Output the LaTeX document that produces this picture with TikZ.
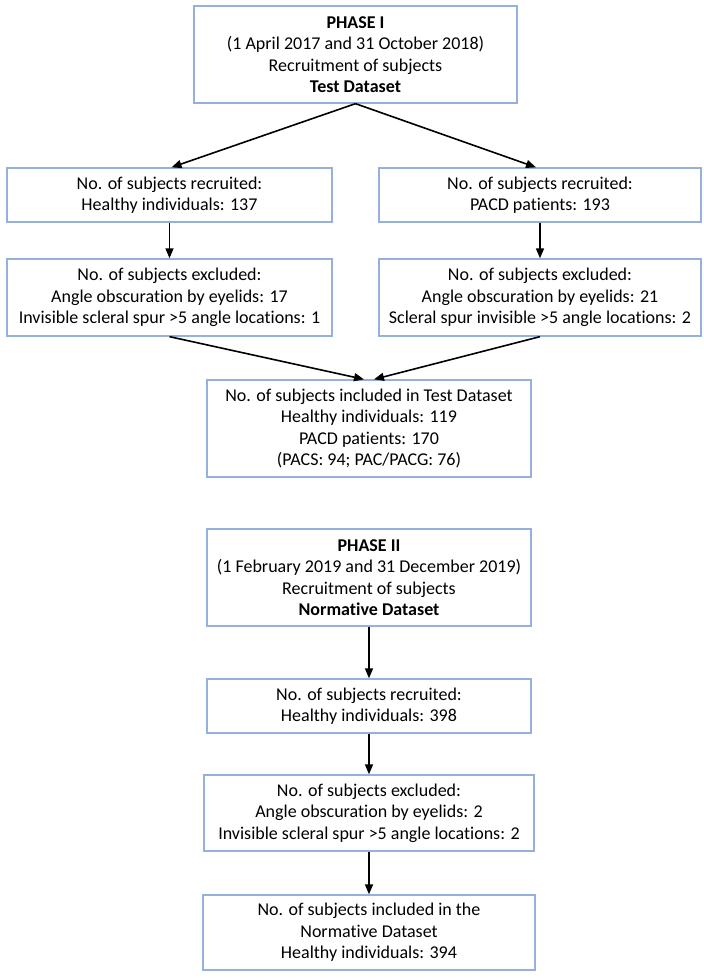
\documentclass[tikz,border=0pt]{standalone}
\usepackage{fontspec}
\setmainfont{Carlito}[Ligatures=NoCommon]
\usetikzlibrary{arrows.meta}
\definecolor{boxline}{RGB}{150,176,222}
\begin{document}
\begin{tikzpicture}[x=1pt,y=-1pt,
  box/.style={draw=boxline,line width=1.3pt,fill=white,inner sep=0pt,align=center,
    font=\fontsize{18}{21.5}\selectfont},
  arr/.style={line width=1.6pt,-{Triangle[length=10pt,width=8pt]}}]
\useasboundingbox[fill=white] (0,0) rectangle (704,978);
% Phase I
\node[box,minimum width=323pt,minimum height=97pt] (b1) at (355.5,54.5)
  {\textbf{PHASE I}\\(1 April 2017 and 31 October 2018)\\Recruitment of subjects\\\textbf{Test Dataset}};
\node[box,minimum width=325pt,minimum height=54pt] (b2) at (169.5,195)
  {No. of subjects recruited:\\Healthy individuals: 137};
\node[box,minimum width=322pt,minimum height=54pt] (b3) at (540,195)
  {No. of subjects recruited:\\PACD patients: 193};
\node[box,minimum width=325pt,minimum height=77pt] (b4) at (169.5,297.5)
  {No. of subjects excluded:\\Angle obscuration by eyelids: 17\\Invisible scleral spur >5 angle locations: 1};
\node[box,minimum width=322pt,minimum height=77pt] (b5) at (540,297.5)
  {No. of subjects excluded:\\Angle obscuration by eyelids: 21\\Scleral spur invisible >5 angle locations: 2};
\node[box,minimum width=324pt,minimum height=97pt] (b6) at (369,428.5)
  {No. of subjects included in Test Dataset\\Healthy individuals: 119\\PACD patients: 170\\(PACS: 94; PAC/PACG: 76)};
% Phase II
\node[box,minimum width=324pt,minimum height=97pt] (b7) at (369,577.5)
  {\textbf{PHASE II}\\(1 February 2019 and 31 December 2019)\\Recruitment of subjects\\\textbf{Normative Dataset}};
\node[box,minimum width=324pt,minimum height=54pt] (b8) at (369,706)
  {No. of subjects recruited:\\Healthy individuals: 398};
\node[box,minimum width=330pt,minimum height=76pt] (b9) at (369,813)
  {No. of subjects excluded:\\Angle obscuration by eyelids: 2\\Invisible scleral spur >5 angle locations: 2};
\node[box,minimum width=332pt,minimum height=75pt] (b10) at (369,932.5)
  {No. of subjects included in the\\Normative Dataset\\Healthy individuals: 394};
% connectors
\draw[arr] (b1.south) -- ([xshift=2pt]b2.north);
\draw[arr] (b1.south) -- ([xshift=-4pt]b3.north);
\draw[arr] (b2.south) -- (b4.north);
\draw[arr] (b3.south) -- (b5.north);
\draw[arr] (b4.south) -- ([xshift=-5pt]b6.north);
\draw[arr] (b5.south) -- ([xshift=5pt]b6.north);
\draw[arr] (b7.south) -- (b8.north);
\draw[arr] (b8.south) -- (b9.north);
\draw[arr] (b9.south) -- (b10.north);
\end{tikzpicture}
\end{document}
